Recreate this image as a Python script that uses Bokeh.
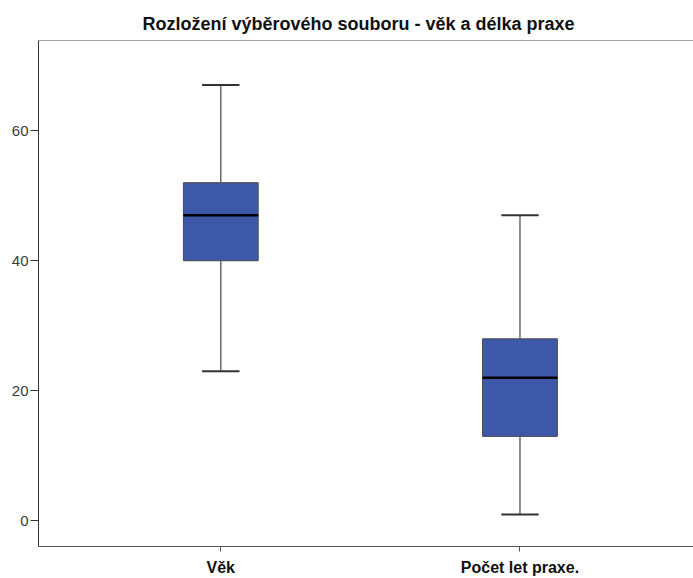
from bokeh.plotting import figure
from bokeh.models import Range1d, FixedTicker, Span
from bokeh.embed import file_html
from bokeh.resources import INLINE

# Data
categories = ["Věk", "Počet let praxe."]
whisker_low = [23, 1]
q1 = [40, 13]
median = [47, 22]
q3 = [52, 28]
whisker_high = [67, 47]
y_ticks = [0, 20, 40, 60]

xs = [i + 1 for i in range(len(categories))]
box_w = 0.25
cap_w = 0.125

p = figure(width=693, height=578, output_backend="svg", toolbar_location=None,
           x_range=Range1d(0.3907, 2.580), y_range=Range1d(-3.93, 73.86),
           min_border_left=38, min_border_right=0, min_border_top=40, min_border_bottom=31)
p.outline_line_color = None
p.background_fill_color = "white"
p.border_fill_color = "white"
p.grid.visible = False

p.title.text = "Rozložení výběrového souboru - věk a délka praxe"
p.title.align = "left"
p.title.offset = 104
p.title.text_font = "Liberation Sans"
p.title.text_font_size = "18px"
p.title.text_font_style = "bold"
p.title.text_color = "#111111"
p.title.standoff = 13

# top border
p.add_layout(Span(location=73.86, dimension="width", line_color="#444444", line_width=1))

# whisker stems
p.segment(x0=xs, y0=q3, x1=xs, y1=whisker_high, line_color="#555555", line_width=1.3)
p.segment(x0=xs, y0=whisker_low, x1=xs, y1=q1, line_color="#555555", line_width=1.3)
# caps
p.segment(x0=[x - cap_w / 2 for x in xs], y0=whisker_high, x1=[x + cap_w / 2 for x in xs], y1=whisker_high,
          line_color="#333333", line_width=2)
p.segment(x0=[x - cap_w / 2 for x in xs], y0=whisker_low, x1=[x + cap_w / 2 for x in xs], y1=whisker_low,
          line_color="#333333", line_width=2)
# boxes
p.vbar(x=xs, width=box_w, bottom=q1, top=q3, fill_color="#3D58A8", line_color="#4a4a4a", line_width=1)
# medians
p.segment(x0=[x - box_w / 2 for x in xs], y0=median, x1=[x + box_w / 2 for x in xs], y1=median,
          line_color="#000000", line_width=2.5)

# y axis
p.yaxis.ticker = FixedTicker(ticks=y_ticks)
p.yaxis.minor_tick_line_color = None
p.yaxis.major_tick_out = 8
p.yaxis.major_tick_in = 0
p.yaxis.major_label_standoff = 2
p.yaxis.major_label_text_font = "Liberation Sans"
p.yaxis.major_label_text_font_size = "15px"
p.yaxis.major_label_text_color = "#3a3a3a"
p.yaxis.axis_line_color = "#333333"
p.yaxis.major_tick_line_color = "#333333"

# x axis
p.xaxis.ticker = FixedTicker(ticks=xs)
p.xaxis.major_label_overrides = {x: c for x, c in zip(xs, categories)}
p.xaxis.minor_tick_line_color = None
p.xaxis.major_tick_out = 5
p.xaxis.major_tick_in = 0
p.xaxis.major_label_standoff = 7
p.xaxis.major_label_text_font = "Liberation Sans"
p.xaxis.major_label_text_font_size = "16px"
p.xaxis.major_label_text_font_style = "bold"
p.xaxis.major_label_text_color = "#111111"
p.xaxis.axis_line_color = "#555555"
p.xaxis.major_tick_line_color = "#555555"

open("out.html", "w").write(file_html(p, INLINE))
